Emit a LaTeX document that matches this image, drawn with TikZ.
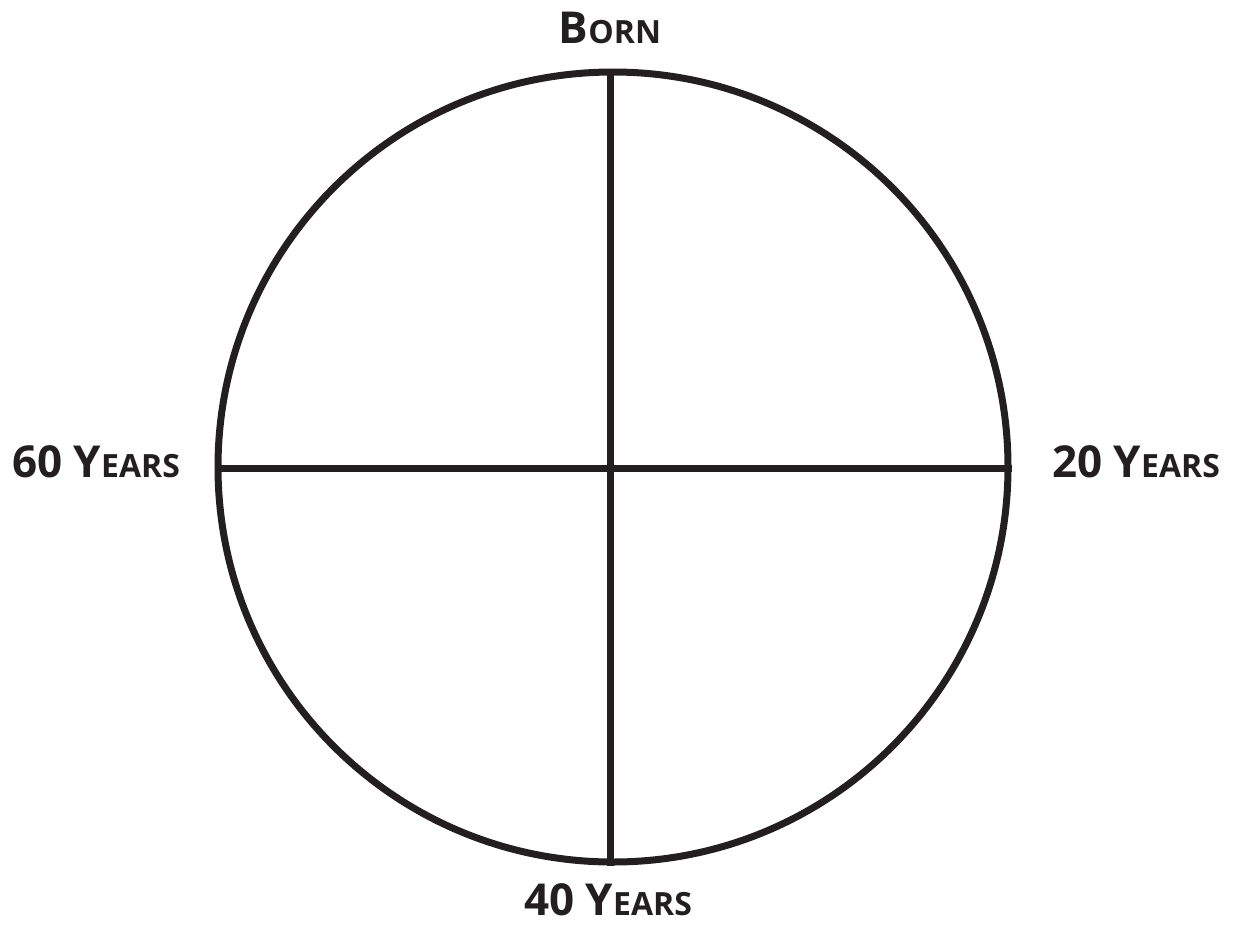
\documentclass[tikz,border=0pt]{standalone}
\usepackage{fontspec}
\setmainfont{Open Sans}
\definecolor{ink}{HTML}{231F20}
\newcommand{\bigc}[1]{{\fontsize{33}{40}\selectfont #1}}
\newcommand{\smc}[1]{{\fontsize{24}{30}\selectfont #1}}
\begin{document}
\begin{tikzpicture}[x=0.75pt,y=-0.75pt,
  lbl/.style={anchor=base,inner sep=0pt,text=ink,font=\bfseries},
  ring/.style={draw=ink,line width=5.25pt,circle,minimum size=592.5pt,inner sep=0pt},
  axis/.style={draw=ink,line width=5.25pt}]
\useasboundingbox (0,0) rectangle (1234,928);
\node[ring] (c) at (613,467) {};
\draw[axis] ([xshift=-1.9pt]c.north) -- ([xshift=-1.9pt]c.south);
\draw[axis] ([yshift=-0.75pt]c.west) -- ([yshift=-0.75pt]c.east);
\node[lbl] (born) at (610,43) {\bigc{B}\smc{ORN}};
\node[lbl] (y60) at (96,477) {\bigc{60 Y}\smc{EARS}};
\node[lbl] (y20) at (1136,477) {\bigc{20 Y}\smc{EARS}};
\node[lbl] (y40) at (608,915) {\bigc{40 Y}\smc{EARS}};
\end{tikzpicture}
\end{document}
